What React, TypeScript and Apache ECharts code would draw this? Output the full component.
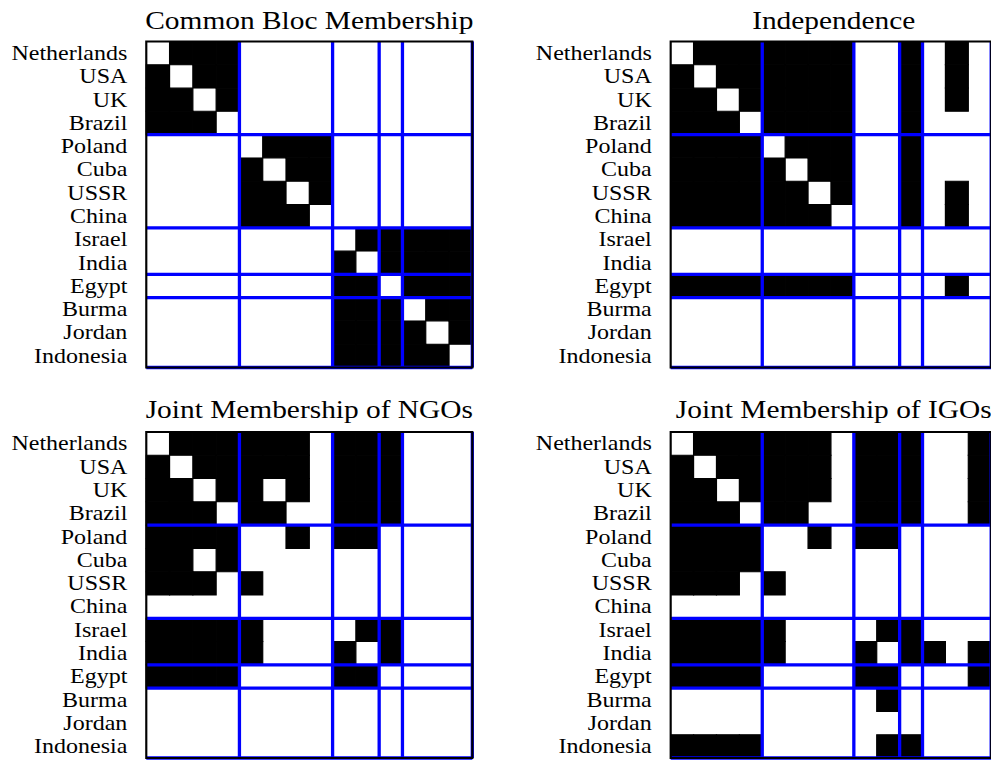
import React, { useEffect, useRef } from "react";
import * as echarts from "echarts";

const COUNTRIES = [
  "Netherlands", "USA", "UK", "Brazil", "Poland", "Cuba", "USSR", "China",
  "Israel", "India", "Egypt", "Burma", "Jordan", "Indonesia",
];

const PARTITION_BOUNDS = [4, 8, 10, 11, 14];

const TITLES = [
  "Common Bloc Membership",
  "Independence",
  "Joint Membership of NGOs",
  "Joint Membership of IGOs",
];

const BLOC = [
  [0, 1, 1, 1, 0, 0, 0, 0, 0, 0, 0, 0, 0, 0],
  [1, 0, 1, 1, 0, 0, 0, 0, 0, 0, 0, 0, 0, 0],
  [1, 1, 0, 1, 0, 0, 0, 0, 0, 0, 0, 0, 0, 0],
  [1, 1, 1, 0, 0, 0, 0, 0, 0, 0, 0, 0, 0, 0],
  [0, 0, 0, 0, 0, 1, 1, 1, 0, 0, 0, 0, 0, 0],
  [0, 0, 0, 0, 1, 0, 1, 1, 0, 0, 0, 0, 0, 0],
  [0, 0, 0, 0, 1, 1, 0, 1, 0, 0, 0, 0, 0, 0],
  [0, 0, 0, 0, 1, 1, 1, 0, 0, 0, 0, 0, 0, 0],
  [0, 0, 0, 0, 0, 0, 0, 0, 0, 1, 1, 1, 1, 1],
  [0, 0, 0, 0, 0, 0, 0, 0, 1, 0, 1, 1, 1, 1],
  [0, 0, 0, 0, 0, 0, 0, 0, 1, 1, 0, 1, 1, 1],
  [0, 0, 0, 0, 0, 0, 0, 0, 1, 1, 1, 0, 1, 1],
  [0, 0, 0, 0, 0, 0, 0, 0, 1, 1, 1, 1, 0, 1],
  [0, 0, 0, 0, 0, 0, 0, 0, 1, 1, 1, 1, 1, 0],
];

const INDEP = [
  [0, 1, 1, 1, 1, 1, 1, 1, 0, 0, 1, 0, 1, 0],
  [1, 0, 1, 1, 1, 1, 1, 1, 0, 0, 1, 0, 1, 0],
  [1, 1, 0, 1, 1, 1, 1, 1, 0, 0, 1, 0, 1, 0],
  [1, 1, 1, 0, 1, 1, 1, 1, 0, 0, 1, 0, 0, 0],
  [1, 1, 1, 1, 0, 1, 1, 1, 0, 0, 1, 0, 0, 0],
  [1, 1, 1, 1, 1, 0, 1, 1, 0, 0, 1, 0, 0, 0],
  [1, 1, 1, 1, 1, 1, 0, 1, 0, 0, 1, 0, 1, 0],
  [1, 1, 1, 1, 1, 1, 1, 0, 0, 0, 1, 0, 1, 0],
  [0, 0, 0, 0, 0, 0, 0, 0, 0, 0, 0, 0, 0, 0],
  [0, 0, 0, 0, 0, 0, 0, 0, 0, 0, 0, 0, 0, 0],
  [1, 1, 1, 1, 1, 1, 1, 1, 0, 0, 0, 0, 1, 0],
  [0, 0, 0, 0, 0, 0, 0, 0, 0, 0, 0, 0, 0, 0],
  [0, 0, 0, 0, 0, 0, 0, 0, 0, 0, 0, 0, 0, 0],
  [0, 0, 0, 0, 0, 0, 0, 0, 0, 0, 0, 0, 0, 0],
];

const NGO = [
  [0, 1, 1, 1, 1, 1, 1, 0, 1, 1, 1, 0, 0, 0],
  [1, 0, 1, 1, 1, 1, 1, 0, 1, 1, 1, 0, 0, 0],
  [1, 1, 0, 1, 1, 0, 1, 0, 1, 1, 1, 0, 0, 0],
  [1, 1, 1, 0, 1, 1, 0, 0, 1, 1, 1, 0, 0, 0],
  [1, 1, 1, 1, 0, 0, 1, 0, 1, 1, 0, 0, 0, 0],
  [1, 1, 0, 1, 0, 0, 0, 0, 0, 0, 0, 0, 0, 0],
  [1, 1, 1, 0, 1, 0, 0, 0, 0, 0, 0, 0, 0, 0],
  [0, 0, 0, 0, 0, 0, 0, 0, 0, 0, 0, 0, 0, 0],
  [1, 1, 1, 1, 1, 0, 0, 0, 0, 1, 1, 0, 0, 0],
  [1, 1, 1, 1, 1, 0, 0, 0, 1, 0, 1, 0, 0, 0],
  [1, 1, 1, 1, 0, 0, 0, 0, 1, 1, 0, 0, 0, 0],
  [0, 0, 0, 0, 0, 0, 0, 0, 0, 0, 0, 0, 0, 0],
  [0, 0, 0, 0, 0, 0, 0, 0, 0, 0, 0, 0, 0, 0],
  [0, 0, 0, 0, 0, 0, 0, 0, 0, 0, 0, 0, 0, 0],
];

const IGO = [
  [0, 1, 1, 1, 1, 1, 1, 0, 1, 1, 1, 0, 0, 1],
  [1, 0, 1, 1, 1, 1, 1, 0, 1, 1, 1, 0, 0, 1],
  [1, 1, 0, 1, 1, 1, 1, 0, 1, 1, 1, 0, 0, 1],
  [1, 1, 1, 0, 1, 1, 0, 0, 1, 1, 1, 0, 0, 1],
  [1, 1, 1, 1, 0, 0, 1, 0, 1, 1, 0, 0, 0, 0],
  [1, 1, 1, 1, 0, 0, 0, 0, 0, 0, 0, 0, 0, 0],
  [1, 1, 1, 0, 1, 0, 0, 0, 0, 0, 0, 0, 0, 0],
  [0, 0, 0, 0, 0, 0, 0, 0, 0, 0, 0, 0, 0, 0],
  [1, 1, 1, 1, 1, 0, 0, 0, 0, 1, 1, 0, 0, 0],
  [1, 1, 1, 1, 1, 0, 0, 0, 1, 0, 1, 1, 0, 1],
  [1, 1, 1, 1, 0, 0, 0, 0, 1, 1, 0, 0, 0, 1],
  [0, 0, 0, 0, 0, 0, 0, 0, 0, 1, 0, 0, 0, 0],
  [0, 0, 0, 0, 0, 0, 0, 0, 0, 0, 0, 0, 0, 0],
  [1, 1, 1, 1, 0, 0, 0, 0, 0, 1, 1, 0, 0, 0],
];

const MATRICES = [BLOC, INDEP, NGO, IGO];

// layout (unstretched coordinates; whole chart is stretched horizontally)
const STRETCH = 1.2;
const CHART_W = 825.5;
const CHART_H = 760;
const GRID_W = 271.7;
const GRID_H = 326;
const PANEL_POS = [
  { left: 121.9, top: 41.5, titleTop: 8.6 },
  { left: 558.9, top: 41.5, titleTop: 8.6 },
  { left: 121.9, top: 432, titleTop: 397.5 },
  { left: 558.9, top: 432, titleTop: 397.5 },
];
const FONT = "'Liberation Serif', 'Times New Roman', serif";

function buildOption() {
  const grid = PANEL_POS.map((p) => ({
    left: p.left,
    top: p.top,
    width: GRID_W,
    height: GRID_H,
    containLabel: false,
  }));
  const title = PANEL_POS.map((p, i) => ({
    text: TITLES[i],
    left: p.left + GRID_W / 2,
    top: p.titleTop,
    textAlign: "center",
    padding: 0,
    textStyle: { fontFamily: FONT, fontSize: 24.5, fontWeight: "normal", color: "#000" },
  }));
  const xAxis = PANEL_POS.map((_, i) => ({
    type: "category",
    gridIndex: i,
    data: COUNTRIES,
    show: false,
  }));
  const yAxis = PANEL_POS.map((_, i) => ({
    type: "category",
    gridIndex: i,
    data: COUNTRIES,
    inverse: true,
    axisLine: { show: false },
    axisTick: { show: false },
    splitLine: { show: false },
    axisLabel: {
      interval: 0,
      margin: 15.8,
      fontFamily: FONT,
      fontSize: 20,
      color: "#000",
    },
  }));

  const series: any[] = [];
  MATRICES.forEach((m, i) => {
    const cells: number[][] = [];
    m.forEach((row, r) => row.forEach((v, c) => cells.push([c, r, v])));
    series.push({
      type: "custom",
      xAxisIndex: i,
      yAxisIndex: i,
      z: 2,
      silent: true,
      data: cells,
      renderItem: (params: any, api: any) => {
        if (!api.value(2)) return null;
        const pt = api.coord([api.value(0), api.value(1)]);
        const sz = api.size([1, 1]);
        return {
          type: "rect",
          shape: { x: pt[0] - sz[0] / 2, y: pt[1] - sz[1] / 2, width: sz[0], height: sz[1] },
          style: { fill: "#000000", stroke: "#000000", lineWidth: 1 },
        };
      },
    });
    series.push({
      type: "custom",
      xAxisIndex: i,
      yAxisIndex: i,
      z: 3,
      silent: true,
      data: PARTITION_BOUNDS.map((b) => [b - 1, b - 1]),
      renderItem: (params: any, api: any) => {
        const cs = params.coordSys;
        const k = api.value(0);
        const pt = api.coord([k, k]);
        const sz = api.size([1, 1]);
        const x = pt[0] + sz[0] / 2;
        const y = pt[1] + sz[1] / 2;
        return {
          type: "group",
          children: [
            {
              type: "line",
              shape: { x1: x, y1: cs.y, x2: x, y2: cs.y + cs.height },
              style: { stroke: "#0000ff", lineWidth: 2.75 },
            },
            {
              type: "line",
              shape: { x1: cs.x, y1: y, x2: cs.x + cs.width, y2: y },
              style: { stroke: "#0000ff", lineWidth: 3.3 },
            },
          ],
        };
      },
    });
    series.push({
      type: "custom",
      xAxisIndex: i,
      yAxisIndex: i,
      z: 4,
      silent: true,
      data: [[0, 0]],
      renderItem: (params: any) => {
        const cs = params.coordSys;
        return {
          type: "rect",
          shape: { x: cs.x, y: cs.y, width: cs.width, height: cs.height },
          style: { fill: "none", stroke: "#000000", lineWidth: 1.8 },
        };
      },
    });
  });

  return {
    animation: false,
    backgroundColor: "#ffffff",
    title,
    grid,
    xAxis,
    yAxis,
    series,
  };
}

export default function App() {
  const ref = useRef<HTMLDivElement>(null);
  useEffect(() => {
    if (!ref.current) return;
    const chart = echarts.init(ref.current, undefined, { renderer: "svg" });
    chart.setOption(buildOption() as any);
    return () => chart.dispose();
  }, []);
  return (
    <div
      ref={ref}
      style={{
        position: "absolute",
        left: 0,
        top: 0,
        width: CHART_W,
        height: CHART_H,
        transform: `scaleX(${STRETCH})`,
        transformOrigin: "0 0",
        overflow: "hidden",
      }}
    />
  );
}
